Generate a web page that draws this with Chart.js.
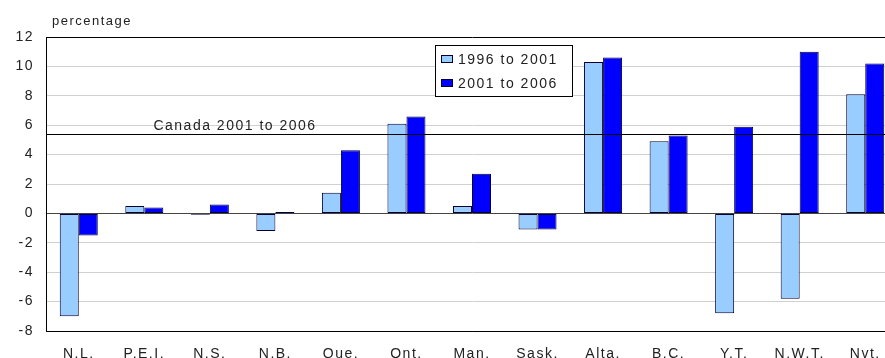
<!DOCTYPE html>
<html>
<head>
<meta charset="utf-8">
<script src="https://cdn.jsdelivr.net/npm/chart.js@4.4.1/dist/chart.umd.min.js"></script>
<style>
  html, body { margin: 0; padding: 0; background: #fff; overflow: hidden; }
  #wrap { width: 898px; height: 358px; position: relative; }
</style>
</head>
<body>
<div id="wrap"><canvas id="c"></canvas></div>
<script>
const categories = ["N.L.", "P.E.I.", "N.S.", "N.B.", "Que.", "Ont.", "Man.", "Sask.", "Alta.", "B.C.", "Y.T.", "N.W.T.", "Nvt."];
const growth1996to2001 = [-7.0, 0.5, -0.1, -1.2, 1.4, 6.1, 0.5, -1.1, 10.3, 4.9, -6.8, -5.8, 8.1];
const growth2001to2006 = [-1.5, 0.4, 0.6, 0.1, 4.3, 6.6, 2.7, -1.1, 10.6, 5.3, 5.9, 11.0, 10.2];
const seriesLabels = ["1996 to 2001", "2001 to 2006"];
const canadaValue = 5.4;
const canadaLabel = "Canada 2001 to 2006";
const yTicks = [-8, -6, -4, -2, 0, 2, 4, 6, 8, 10, 12];
const yAxisTitle = "percentage";

const FONT = "'Liberation Sans', Arial, sans-serif";
const SPACING = '1.5px';

const spacingPlugin = {
  id: 'spacing',
  beforeLayout(chart) { chart.ctx.letterSpacing = SPACING; },
  beforeDraw(chart) { chart.ctx.letterSpacing = SPACING; }
};

const overlayPlugin = {
  id: 'overlay',
  afterDatasetsDraw(chart) {
    const ctx = chart.ctx;
    const y = chart.scales.y;
    const area = chart.chartArea;
    ctx.save();
    ctx.letterSpacing = SPACING;
    // Canada line
    const py = Math.round(y.getPixelForValue(canadaValue)) + 0.5;
    ctx.strokeStyle = '#000';
    ctx.lineWidth = 1;
    ctx.beginPath();
    ctx.moveTo(area.left, py);
    ctx.lineTo(area.right, py);
    ctx.stroke();
    ctx.fillStyle = '#222';
    ctx.font = '14px ' + FONT;
    ctx.textAlign = 'center';
    ctx.textBaseline = 'middle';
    ctx.fillText(canadaLabel, 235, py - 8);
    // y title
    ctx.textAlign = 'left';
    ctx.font = '13px ' + FONT;
    ctx.fillText(yAxisTitle, 52, 21);
    // legend
    const lx = 435, ly = 45, lw = 137, lh = 51;
    ctx.fillStyle = '#fff';
    ctx.fillRect(lx, ly, lw, lh);
    ctx.strokeStyle = '#000';
    ctx.strokeRect(lx + 0.5, ly + 0.5, lw, lh);
    const rows = [59, 83];
    chart.data.datasets.forEach((ds, i) => {
      ctx.fillStyle = ds.backgroundColor;
      ctx.fillRect(441, rows[i] - 4, 12, 8);
      ctx.strokeStyle = '#000033';
      ctx.strokeRect(441.5, rows[i] - 3.5, 11, 7);
      ctx.fillStyle = '#222';
      ctx.font = '14px ' + FONT;
      ctx.textAlign = 'left';
      ctx.fillText(ds.label, 458, rows[i] + 1);
    });
    ctx.restore();
  }
};

new Chart(document.getElementById('c'), {
  type: 'bar',
  data: {
    labels: categories,
    datasets: [
      { label: seriesLabels[0], data: growth1996to2001, backgroundColor: '#99ccff', borderColor: '#000033', borderWidth: 1, borderSkipped: false },
      { label: seriesLabels[1], data: growth2001to2006, backgroundColor: '#0000ff', borderColor: '#000033', borderWidth: 1, borderSkipped: false }
    ]
  },
  options: {
    responsive: true,
    maintainAspectRatio: false,
    animation: false,
    layout: { padding: { top: 37, right: 0, left: 0, bottom: 0 } },
    datasets: { bar: { categoryPercentage: 0.58, barPercentage: 1.0 } },
    plugins: { legend: { display: false }, tooltip: { enabled: false } },
    scales: {
      x: {
        grid: { display: false },
        border: { display: true, color: '#000', width: 1 },
        ticks: { color: '#222', font: { family: FONT, size: 14 }, padding: 7, maxRotation: 0, autoSkip: false },
        afterFit(s) { s.height = 27; }
      },
      y: {
        min: -8, max: 12,
        afterBuildTicks(s) { s.ticks = yTicks.map(v => ({ value: v })); },
        grid: {
          drawTicks: false,
          color: c => {
            const v = c.tick && c.tick.value;
            if (v === 12 || v === -8) return '#000';
            if (v === 0) return '#444';
            return '#d0d0d0';
          },
          lineWidth: 1
        },
        border: { display: true, color: '#000', width: 1 },
        ticks: { color: '#222', font: { family: FONT, size: 14 }, padding: 12 },
        afterFit(s) { s.width = 46; }
      }
    }
  },
  plugins: [spacingPlugin, overlayPlugin]
});
</script>
</body>
</html>
